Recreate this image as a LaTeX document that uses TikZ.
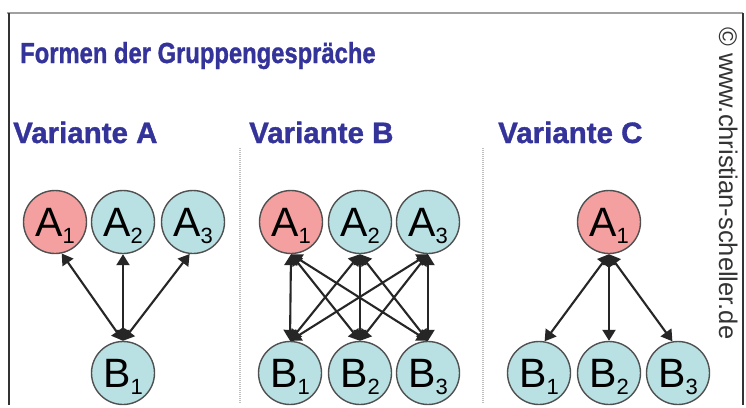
\documentclass[tikz,border=0pt]{standalone}
\usepackage{fontspec}
\setmainfont{Liberation Sans}
\newfontfamily\headfont[FakeBold=1.2]{Liberation Sans Bold}
\usetikzlibrary{arrows.meta}

\definecolor{headblue}{HTML}{33339A}
\definecolor{rosefill}{HTML}{F4A0A0}
\definecolor{tealfill}{HTML}{B9E1E4}
\definecolor{rimgray}{HTML}{505050}
\definecolor{framegray}{HTML}{A0A0A0}

% letter with a lowered index, index kept out of the box height/depth
\newcommand{\grpmember}[2]{\fontsize{41}{41}\selectfont #1\raisebox{-7pt}[0pt][0pt]{\fontsize{22}{22}\selectfont #2}}

\tikzset{
  person/.style={circle, draw=rimgray, line width=1.4pt, minimum size=63pt,
                 inner sep=0pt, fill=tealfill},
  lead/.style={person, fill=rosefill},
  talk/.style={{Triangle[width=13pt,length=11pt]}-{Triangle[width=13pt,length=11pt]},
               line width=2.1pt, draw=black!85},
  heading/.style={font=\headfont\fontsize{29}{29}\selectfont, text=headblue,
                  anchor=base west, inner sep=0pt},
  variant/.style={font=\headfont\fontsize{29.5}{29.5}\selectfont, text=headblue,
                  anchor=base west, inner sep=0pt},
  divider/.style={draw=black!25, line width=2pt, dash pattern=on 1pt off 1pt},
  copyright/.style={font=\fontsize{25.5}{25.5}\selectfont, text=black!80,
                    rotate=-90, anchor=base west, inner sep=0pt}
}

\begin{document}
\begin{tikzpicture}[x=1pt,y=-1pt]
  \useasboundingbox (0,0) rectangle (746,407);
  \fill[white] (0,0) rectangle (746,407);

  % frame
  \draw[framegray, line width=2pt] (7,13) coordinate (ftl) -- (743,13) coordinate (ftr);
  \draw[black!80, line width=2.5pt] (9,13) coordinate (fl1) -- (9,405) coordinate (fl2);
  \draw[black!80, line width=2.5pt] (743,13) coordinate (fr1) -- (743,405) coordinate (fr2);

  % separators between the variants
  \draw[divider] (240,148) coordinate (s1a) -- (240,404) coordinate (s1b);
  \draw[divider] (483,148) coordinate (s2a) -- (483,404) coordinate (s2b);

  % headings
  \node[heading] (title) at (20,63) {\scalebox{0.82}[1]{Formen der Gruppengespräche}};
  \node[variant] (vA) at (13,143) {Variante A};
  \node[variant] (vB) at (249,143) {Variante B};
  \node[variant] (vC) at (498,143) {Variante C};
  \node[copyright] (web) at (719,27) {© www.christian-scheller.de};

  % Variante A
  \node[lead]   (aA1) at (55,222)  {\grpmember{A}{1}};
  \node[person] (aA2) at (123,222) {\grpmember{A}{2}};
  \node[person] (aA3) at (193,222) {\grpmember{A}{3}};
  \node[person] (aB1) at (123,373) {\grpmember{B}{1}};
  \draw[talk] (aB1.north) -- (aA1.-78);
  \draw[talk] (aB1.north) -- (aA2.south);
  \draw[talk] (aB1.north) -- (aA3.-96);

  % Variante B
  \node[lead]   (bA1) at (291,222) {\grpmember{A}{1}};
  \node[person] (bA2) at (360,222) {\grpmember{A}{2}};
  \node[person] (bA3) at (428,222) {\grpmember{A}{3}};
  \node[person] (bB1) at (290,373) {\grpmember{B}{1}};
  \node[person] (bB2) at (360,373) {\grpmember{B}{2}};
  \node[person] (bB3) at (428,373) {\grpmember{B}{3}};
  \foreach \i in {1,2,3}
    \foreach \j in {1,2,3}
      \draw[talk] (bA\i.south) -- (bB\j.north);

  % Variante C
  \node[lead]   (cA1) at (609,222) {\grpmember{A}{1}};
  \node[person] (cB1) at (539,373) {\grpmember{B}{1}};
  \node[person] (cB2) at (609,373) {\grpmember{B}{2}};
  \node[person] (cB3) at (678,373) {\grpmember{B}{3}};
  \draw[talk] (cA1.south) -- (cB1.80);
  \draw[talk] (cA1.south) -- (cB2.north);
  \draw[talk] (cA1.south) -- (cB3.100);
\end{tikzpicture}
\end{document}
